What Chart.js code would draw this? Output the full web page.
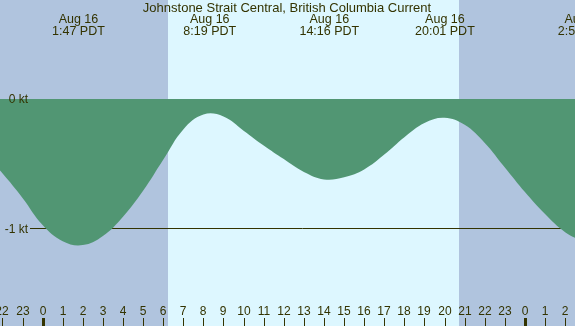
<!DOCTYPE html>
<html>
<head>
<meta charset="utf-8">
<script src="https://cdn.jsdelivr.net/npm/chart.js@4/dist/chart.umd.min.js"></script>
<style>
html,body{margin:0;padding:0;background:#fff;}
#wrap{width:575px;height:326px;}
</style>
</head>
<body>
<div id="wrap"><canvas id="c" width="575" height="326"></canvas></div>
<script>
// Hours relative to Aug 16 00:00 PDT, current speed in knots
const hours = [-3, -2, -1, 0, 1, 2, 3, 4, 5, 6, 7, 8, 9, 10, 11, 12, 13, 14, 15, 16, 17, 18, 19, 20, 21, 22, 23, 24, 25, 26, 27];
const speeds = [-0.40, -0.575, -0.765, -0.975, -1.10, -1.13, -1.06, -0.91, -0.71, -0.47, -0.235, -0.12, -0.135, -0.245, -0.36, -0.465, -0.565, -0.622, -0.605, -0.545, -0.43, -0.295, -0.185, -0.145, -0.20, -0.34, -0.53, -0.72, -0.89, -1.03, -1.11];
const eventHours = [1.783, 8.317, 14.267, 20.017, 26.95];
const eventDates = ["Aug 16", "Aug 16", "Aug 16", "Aug 16", "Aug 17"];
const eventTimes = ["1:47 PDT", "8:19 PDT", "14:16 PDT", "20:01 PDT", "2:57 PDT"];
const sunrise = [6.22];
const sunset = [20.71];
const levelValues = [0, -1];
const levelLabels = ["0 kt", "-1 kt"];
const tickHours = [];
for (let h = -2; h <= 26; h++) tickHours.push(h);
const title = "Johnstone Strait Central, British Columbia Current";

const X_MIN = -2.12, X_MAX = 26.49, Y_MIN = -1.756, Y_MAX = 0.766;
const TEXT = "#333300";
const FONT = "Liberation Sans, Arial, sans-serif";

const bgPlugin = {
  id: 'bg',
  beforeDraw(chart) {
    const {ctx, chartArea: a, scales: {x}} = chart;
    ctx.save();
    ctx.fillStyle = "#b0c4de";
    ctx.fillRect(a.left, a.top, a.right - a.left, a.bottom - a.top);
    ctx.fillStyle = "#ddf7ff";
    for (let i = 0; i < sunrise.length; i++) {
      const x0 = Math.round(x.getPixelForValue(sunrise[i]));
      const x1 = Math.round(x.getPixelForValue(sunset[i]));
      ctx.fillRect(x0, a.top, x1 - x0, a.bottom - a.top);
    }
    ctx.restore();
  },
  beforeDatasetsDraw(chart) {
    const {ctx, chartArea: a, scales: {y}} = chart;
    ctx.save();
    ctx.strokeStyle = TEXT;
    ctx.lineWidth = 1;
    const yy = Math.round(y.getPixelForValue(-1)) + 0.5;
    ctx.beginPath();
    ctx.moveTo(30, yy);
    ctx.lineTo(a.right, yy);
    ctx.stroke();
    ctx.restore();
  },
  afterDraw(chart) {
    const {ctx, chartArea: a, scales: {x, y}} = chart;
    ctx.save();
    ctx.fillStyle = TEXT;
    ctx.textBaseline = "middle";
    ctx.font = "13px " + FONT;
    ctx.textAlign = "center";
    ctx.fillText(title, 287, 8);
    ctx.font = "12.5px " + FONT;
    for (let i = 0; i < eventHours.length; i++) {
      const px = x.getPixelForValue(eventHours[i]);
      ctx.fillText(eventDates[i], px, 20);
      ctx.fillText(eventTimes[i], px, 32);
    }
    ctx.textAlign = "right";
    ctx.font = "12px " + FONT;
    for (let i = 0; i < levelValues.length; i++) {
      ctx.fillText(levelLabels[i], 28, y.getPixelForValue(levelValues[i]) + 1);
    }
    ctx.textAlign = "center";
    ctx.font = "12px " + FONT;
    for (const h of tickHours) {
      const px = Math.round(x.getPixelForValue(h));
      const lab = String(((h % 24) + 24) % 24);
      ctx.fillText(lab, px, 312);
      if (lab === "0") {
        ctx.fillRect(px - 1, 318, 3, a.bottom - 318);
      } else {
        ctx.fillRect(px, 318, 1, a.bottom - 318);
      }
    }
    ctx.restore();
  }
};

new Chart(document.getElementById('c'), {
  type: 'line',
  data: {
    datasets: [{
      data: hours.map((h, i) => ({x: h, y: speeds[i]})),
      fill: 'origin',
      backgroundColor: "#519673",
      borderWidth: 0,
      borderColor: "rgba(0,0,0,0)",
      pointRadius: 0,
      tension: 0.4
    }]
  },
  options: {
    responsive: false,
    animation: false,
    layout: {padding: 0},
    plugins: {legend: {display: false}, tooltip: {enabled: false}, title: {display: false}},
    scales: {
      x: {type: 'linear', min: X_MIN, max: X_MAX, display: false},
      y: {type: 'linear', min: Y_MIN, max: Y_MAX, display: false}
    }
  },
  plugins: [bgPlugin]
});
</script>
</body>
</html>
